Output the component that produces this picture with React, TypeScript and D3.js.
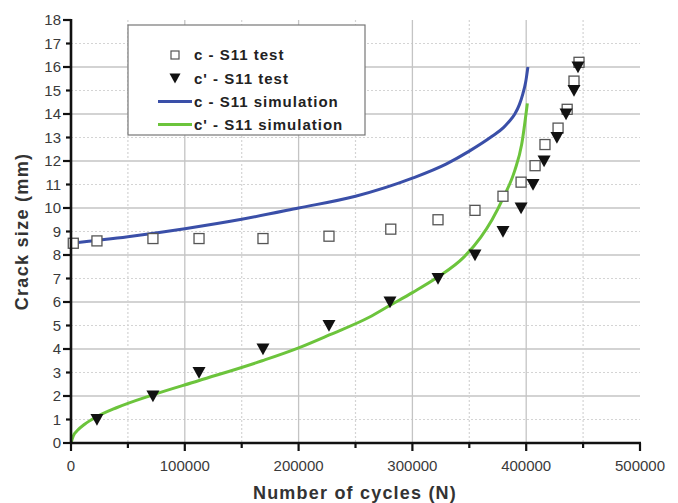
import React from "react";
import * as d3 from "d3";

// Test measurements: crack size c (surface) and c' (depth) vs. cycles
const cTestCycles = [2000, 22800, 72000, 112500, 168700, 226700, 281000, 322500, 355000, 379600, 395500, 407800, 416500, 428000, 436000, 442000, 446400];
const cTestSize = [8.5, 8.6, 8.7, 8.7, 8.7, 8.8, 9.1, 9.5, 9.9, 10.5, 11.1, 11.8, 12.7, 13.4, 14.2, 15.4, 16.2];

const cpTestCycles = [22800, 72000, 112500, 168700, 226700, 280300, 322500, 355000, 379600, 395500, 406000, 415700, 427000, 435000, 442000, 445500];
const cpTestSize = [1, 2, 3, 4, 5, 6, 7, 8, 9, 10, 11, 12, 13, 14, 15, 16];

// Simulation curves
const cSimCycles = [0, 50000, 100000, 150000, 200000, 250000, 300000, 330000, 350000, 370000, 380000, 385000, 390000, 394000, 397000, 399500, 401500];
const cSimSize = [8.5, 8.78, 9.12, 9.52, 10.0, 10.5, 11.27, 11.88, 12.42, 13.05, 13.42, 13.68, 14.0, 14.4, 14.85, 15.35, 16.0];

const cpSimCycles = [0, 2000, 6000, 12000, 22000, 40000, 72000, 112000, 168000, 200000, 227000, 262000, 280000, 300000, 322000, 345000, 360000, 370000, 380000, 390000, 396000, 401000];
const cpSimSize = [0, 0.3, 0.55, 0.8, 1.1, 1.5, 2.05, 2.65, 3.5, 4.05, 4.6, 5.35, 5.85, 6.4, 7.05, 7.9, 8.75, 9.5, 10.45, 11.6, 12.7, 14.45];

const xTicks = [0, 100000, 200000, 300000, 400000, 500000];
const yTicks = d3.range(0, 19);

const legendItems = [
  { label: "c - S11 test", kind: "square" },
  { label: "c' - S11 test", kind: "triangle" },
  { label: "c - S11 simulation", kind: "blue" },
  { label: "c' - S11 simulation", kind: "green" },
];

const W = 678;
const H = 503;
const BLUE = "#3a4fa8";
const GREEN = "#6cc43c";
const FONT = "Liberation Sans, Arial, sans-serif";

export default function App() {
  const x = d3.scaleLinear().domain([0, 500000]).range([71, 640]);
  const y = d3.scaleLinear().domain([0, 18]).range([443, 20]);

  const line = d3
    .line<[number, number]>()
    .x((d) => x(d[0]))
    .y((d) => y(d[1]))
    .curve(d3.curveMonotoneX);

  const cSim = cSimCycles.map((v, i) => [v, cSimSize[i]] as [number, number]);
  const cpSim = cpSimCycles.map((v, i) => [v, cpSimSize[i]] as [number, number]);

  const minorX = d3.range(50000, 500000, 100000);
  const majorX = d3.range(100000, 500000, 100000);

  const tri = (cx: number, cy: number, s: number) =>
    `M${cx - s},${cy - s * 0.85}L${cx + s},${cy - s * 0.85}L${cx},${cy + s * 0.95}Z`;

  return (
    <svg width={W} height={H} style={{ position: "absolute", left: 0, top: 0, background: "#fff" }}>
      {/* horizontal grid */}
      {yTicks.filter((v) => v > 0 && v < 18).map((v) => (
        <line
          key={"gy" + v}
          x1={x(0)}
          x2={640}
          y1={y(v)}
          y2={y(v)}
          stroke={v % 2 === 0 ? "#c4c4c4" : "#d4d4d4"}
          strokeWidth={v % 2 === 0 ? 1.3 : 1.2}
          strokeDasharray={v % 2 === 0 ? undefined : "2,2"}
        />
      ))}
      {/* vertical grid */}
      {majorX.map((v) => (
        <line key={"gx" + v} x1={x(v)} x2={x(v)} y1={y(18)} y2={y(0)} stroke="#c4c4c4" strokeWidth={1.3} />
      ))}
      {minorX.map((v) => (
        <line key={"gxm" + v} x1={x(v)} x2={x(v)} y1={y(18)} y2={y(0)} stroke="#d4d4d4" strokeWidth={1.2} strokeDasharray="2,2" />
      ))}

      {/* simulation curves */}
      <path d={line(cSim) || ""} fill="none" stroke={BLUE} strokeWidth={3} />
      <path d={line(cpSim) || ""} fill="none" stroke={GREEN} strokeWidth={3} />

      {/* test points */}
      {cTestCycles.map((v, i) => (
        <rect
          key={"sq" + i}
          x={x(v) - 5}
          y={y(cTestSize[i]) - 5}
          width={10}
          height={10}
          fill="#fff"
          stroke="#555"
          strokeWidth={1.3}
        />
      ))}
      {cpTestCycles.map((v, i) => (
        <path key={"tr" + i} d={tri(x(v), y(cpTestSize[i]), 6.5)} fill="#111" />
      ))}

      {/* axes */}
      <line x1={x(0)} x2={x(0)} y1={y(18) - 1} y2={y(0) + 1} stroke="#111" strokeWidth={2.6} />
      <line x1={x(0) - 1} x2={x(500000) + 1} y1={y(0)} y2={y(0)} stroke="#111" strokeWidth={2.6} />
      {yTicks.map((v) => (
        <g key={"yt" + v}>
          <line x1={x(0) - (v % 2 === 0 ? 8 : 5)} x2={x(0)} y1={y(v)} y2={y(v)} stroke="#111" strokeWidth={2.2} />
          <text x={61} y={y(v)} dy="0.35em" textAnchor="end" fontFamily={FONT} fontSize={15} fill="#3a3a3a">
            {v}
          </text>
        </g>
      ))}
      {d3.range(0, 500001, 50000).map((v) => (
        <line
          key={"xt" + v}
          x1={x(v)}
          x2={x(v)}
          y1={y(0)}
          y2={y(0) + (v % 100000 === 0 ? 8 : 5)}
          stroke="#111"
          strokeWidth={2.2}
        />
      ))}
      {xTicks.map((v) => (
        <text key={"xl" + v} x={x(v)} y={471} textAnchor="middle" fontFamily={FONT} fontSize={15} fill="#3a3a3a">
          {v}
        </text>
      ))}

      {/* axis titles */}
      <text x={355} y={499} textAnchor="middle" fontFamily={FONT} fontSize={18} fontWeight="bold" letterSpacing={1.2} fill="#333">
        Number of cycles (N)
      </text>
      <text
        transform={`translate(28,${y(9)}) rotate(-90)`}
        textAnchor="middle"
        fontFamily={FONT}
        fontSize={18}
        fontWeight="bold"
        letterSpacing={1.3}
        fill="#333"
      >
        Crack size (mm)
      </text>

      {/* legend */}
      <rect x={128} y={25} width={237} height={110} fill="#fff" stroke="#777" strokeWidth={1.2} />
      {legendItems.map((item, i) => {
        const cy = 55 + i * 23.2;
        return (
          <g key={item.label}>
            {item.kind === "square" && (
              <rect x={171} y={cy - 4} width={8} height={8} fill="#fff" stroke="#555" strokeWidth={1.2} />
            )}
            {item.kind === "triangle" && <path d={tri(175, cy, 5.5)} fill="#111" />}
            {item.kind === "blue" && <line x1={158} x2={192} y1={cy} y2={cy} stroke={BLUE} strokeWidth={3} />}
            {item.kind === "green" && <line x1={158} x2={192} y1={cy} y2={cy} stroke={GREEN} strokeWidth={3} />}
            <text
              x={194}
              y={cy}
              dy="0.36em"
              fontFamily={FONT}
              fontSize={15}
              fontWeight="bold"
              letterSpacing={1.0}
              fill="#222"
            >
              {item.label}
            </text>
          </g>
        );
      })}
    </svg>
  );
}
